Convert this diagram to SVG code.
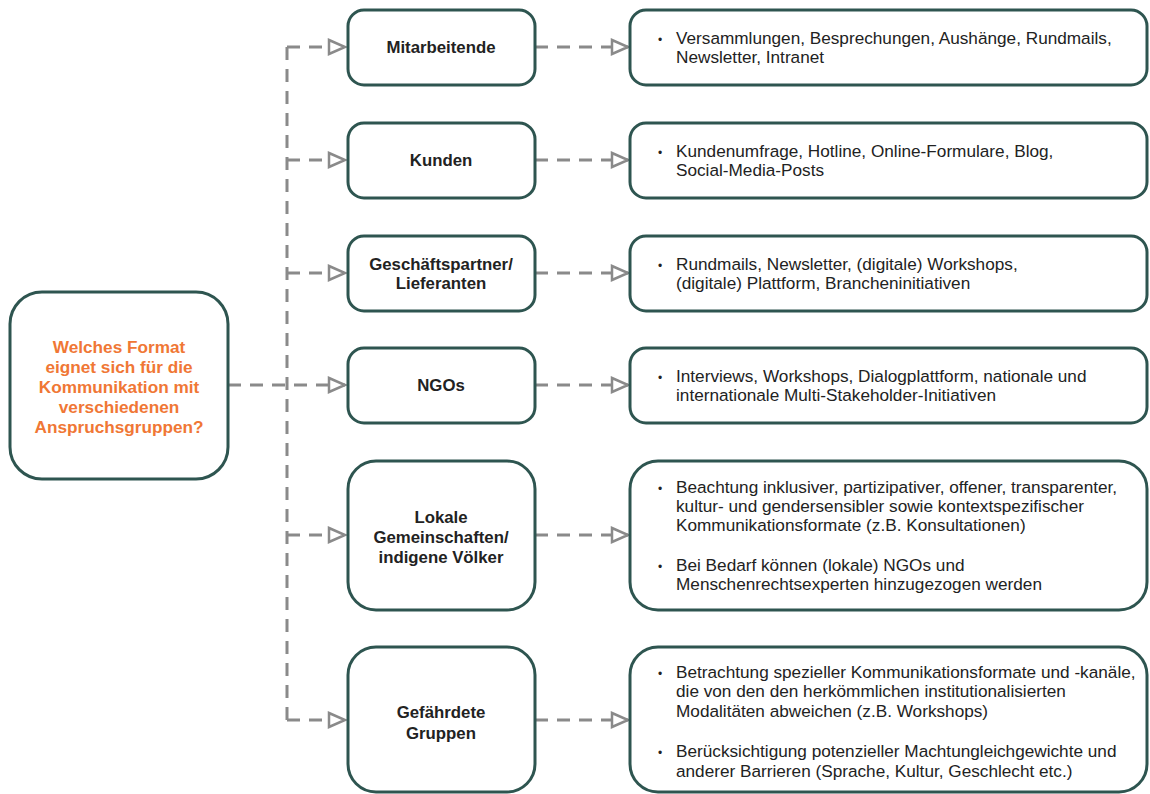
<svg xmlns="http://www.w3.org/2000/svg" width="1150" height="794" viewBox="0 0 1150 794">
<style>
.box{fill:#fff;stroke:#2e5550;stroke-width:3}
.lbl{font-family:"Liberation Sans",Arial,sans-serif;font-size:16.8px;font-weight:bold;fill:#222;text-anchor:middle}
.q{font-family:"Liberation Sans",Arial,sans-serif;font-size:17.2px;font-weight:bold;fill:#f07735;text-anchor:middle}
.txt{font-family:"Liberation Sans",Arial,sans-serif;font-size:17.2px;fill:#222}
.bul{font-family:"Liberation Sans",Arial,sans-serif;font-size:12px;fill:#222}
.con{fill:none;stroke:#8a8a8a;stroke-width:3;stroke-dasharray:13 9}
</style>
<defs>
<marker id="arr" markerUnits="userSpaceOnUse" markerWidth="20" markerHeight="20" viewBox="0 0 20 20" refX="18" refY="10" orient="auto">
<path d="M2 3 L18 10 L2 17 Z" fill="#fff" stroke="#8a8a8a" stroke-width="2.5" stroke-linejoin="miter"/>
</marker>
</defs>
<g id="connectors">
<path class="con" d="M287 47 V720"/>
<path class="con" d="M287 47 H345" marker-end="url(#arr)"/>
<path class="con" d="M287 160 H345" marker-end="url(#arr)"/>
<path class="con" d="M287 273 H345" marker-end="url(#arr)"/>
<path class="con" d="M228 385 H345" marker-end="url(#arr)"/>
<path class="con" d="M287 535 H345" marker-end="url(#arr)"/>
<path class="con" d="M287 720 H345" marker-end="url(#arr)"/>
<path class="con" d="M535 47 H628" marker-end="url(#arr)"/>
<path class="con" d="M535 160 H628" marker-end="url(#arr)"/>
<path class="con" d="M535 273 H628" marker-end="url(#arr)"/>
<path class="con" d="M535 385 H628" marker-end="url(#arr)"/>
<path class="con" d="M535 535 H628" marker-end="url(#arr)"/>
<path class="con" d="M535 720 H628" marker-end="url(#arr)"/>
</g>
<g id="center">
<rect class="box" x="10" y="292" width="218" height="187" rx="32"/>
<text class="q" x="119" y="353">Welches Format</text>
<text class="q" x="119" y="373">eignet sich für die</text>
<text class="q" x="119" y="393">Kommunikation mit</text>
<text class="q" x="119" y="413">verschiedenen</text>
<text class="q" x="119" y="433">Anspruchsgruppen?</text>
</g>
<g id="mitarbeitende">
<rect class="box" x="348" y="10" width="187" height="75" rx="16"/>
<text class="lbl" x="441" y="53">Mitarbeitende</text>
</g>
<g id="kunden">
<rect class="box" x="348" y="123" width="187" height="75" rx="16"/>
<text class="lbl" x="441" y="166">Kunden</text>
</g>
<g id="geschaeftspartner">
<rect class="box" x="348" y="236" width="187" height="75" rx="16"/>
<text class="lbl" x="441" y="270">Geschäftspartner/</text>
<text class="lbl" x="441" y="289">Lieferanten</text>
</g>
<g id="ngos">
<rect class="box" x="348" y="348" width="187" height="75" rx="16"/>
<text class="lbl" x="441" y="391">NGOs</text>
</g>
<g id="lokale">
<rect class="box" x="348" y="461" width="187" height="149" rx="28"/>
<text class="lbl" x="441" y="523">Lokale</text>
<text class="lbl" x="441" y="543">Gemeinschaften/</text>
<text class="lbl" x="441" y="563">indigene Völker</text>
</g>
<g id="gefaehrdete">
<rect class="box" x="348" y="647" width="187" height="145" rx="28"/>
<text class="lbl" x="441" y="718">Gefährdete</text>
<text class="lbl" x="441" y="739">Gruppen</text>
</g>
<g id="r-mitarbeitende">
<rect class="box" x="630" y="10" width="517" height="75" rx="16"/>
<text class="bul" x="658" y="44">•</text>
<text class="txt" x="676" y="44">Versammlungen, Besprechungen, Aushänge, Rundmails,</text>
<text class="txt" x="676" y="63">Newsletter, Intranet</text>
</g>
<g id="r-kunden">
<rect class="box" x="630" y="123" width="517" height="75" rx="16"/>
<text class="bul" x="658" y="157">•</text>
<text class="txt" x="676" y="157">Kundenumfrage, Hotline, Online-Formulare, Blog,</text>
<text class="txt" x="676" y="176">Social-Media-Posts</text>
</g>
<g id="r-geschaeftspartner">
<rect class="box" x="630" y="236" width="517" height="75" rx="16"/>
<text class="bul" x="658" y="270">•</text>
<text class="txt" x="676" y="270">Rundmails, Newsletter, (digitale) Workshops,</text>
<text class="txt" x="676" y="289">(digitale) Plattform, Brancheninitiativen</text>
</g>
<g id="r-ngos">
<rect class="box" x="630" y="348" width="517" height="75" rx="16"/>
<text class="bul" x="658" y="382">•</text>
<text class="txt" x="676" y="382">Interviews, Workshops, Dialogplattform, nationale und</text>
<text class="txt" x="676" y="401">internationale Multi-Stakeholder-Initiativen</text>
</g>
<g id="r-lokale">
<rect class="box" x="630" y="461" width="517" height="149" rx="28"/>
<text class="bul" x="658" y="493">•</text>
<text class="txt" x="676" y="493">Beachtung inklusiver, partizipativer, offener, transparenter,</text>
<text class="txt" x="676" y="512">kultur- und gendersensibler sowie kontextspezifischer</text>
<text class="txt" x="676" y="531">Kommunikationsformate (z.B. Konsultationen)</text>
<text class="bul" x="658" y="571">•</text>
<text class="txt" x="676" y="571">Bei Bedarf können (lokale) NGOs und</text>
<text class="txt" x="676" y="590">Menschenrechtsexperten hinzugezogen werden</text>
</g>
<g id="r-gefaehrdete">
<rect class="box" x="630" y="647" width="517" height="145" rx="28"/>
<text class="bul" x="658" y="678">•</text>
<text class="txt" x="676" y="678">Betrachtung spezieller Kommunikationsformate und -kanäle,</text>
<text class="txt" x="676" y="697">die von den den herkömmlichen institutionalisierten</text>
<text class="txt" x="676" y="717">Modalitäten abweichen (z.B. Workshops)</text>
<text class="bul" x="658" y="757">•</text>
<text class="txt" x="676" y="757">Berücksichtigung potenzieller Machtungleichgewichte und</text>
<text class="txt" x="676" y="777">anderer Barrieren (Sprache, Kultur, Geschlecht etc.)</text>
</g>
</svg>
